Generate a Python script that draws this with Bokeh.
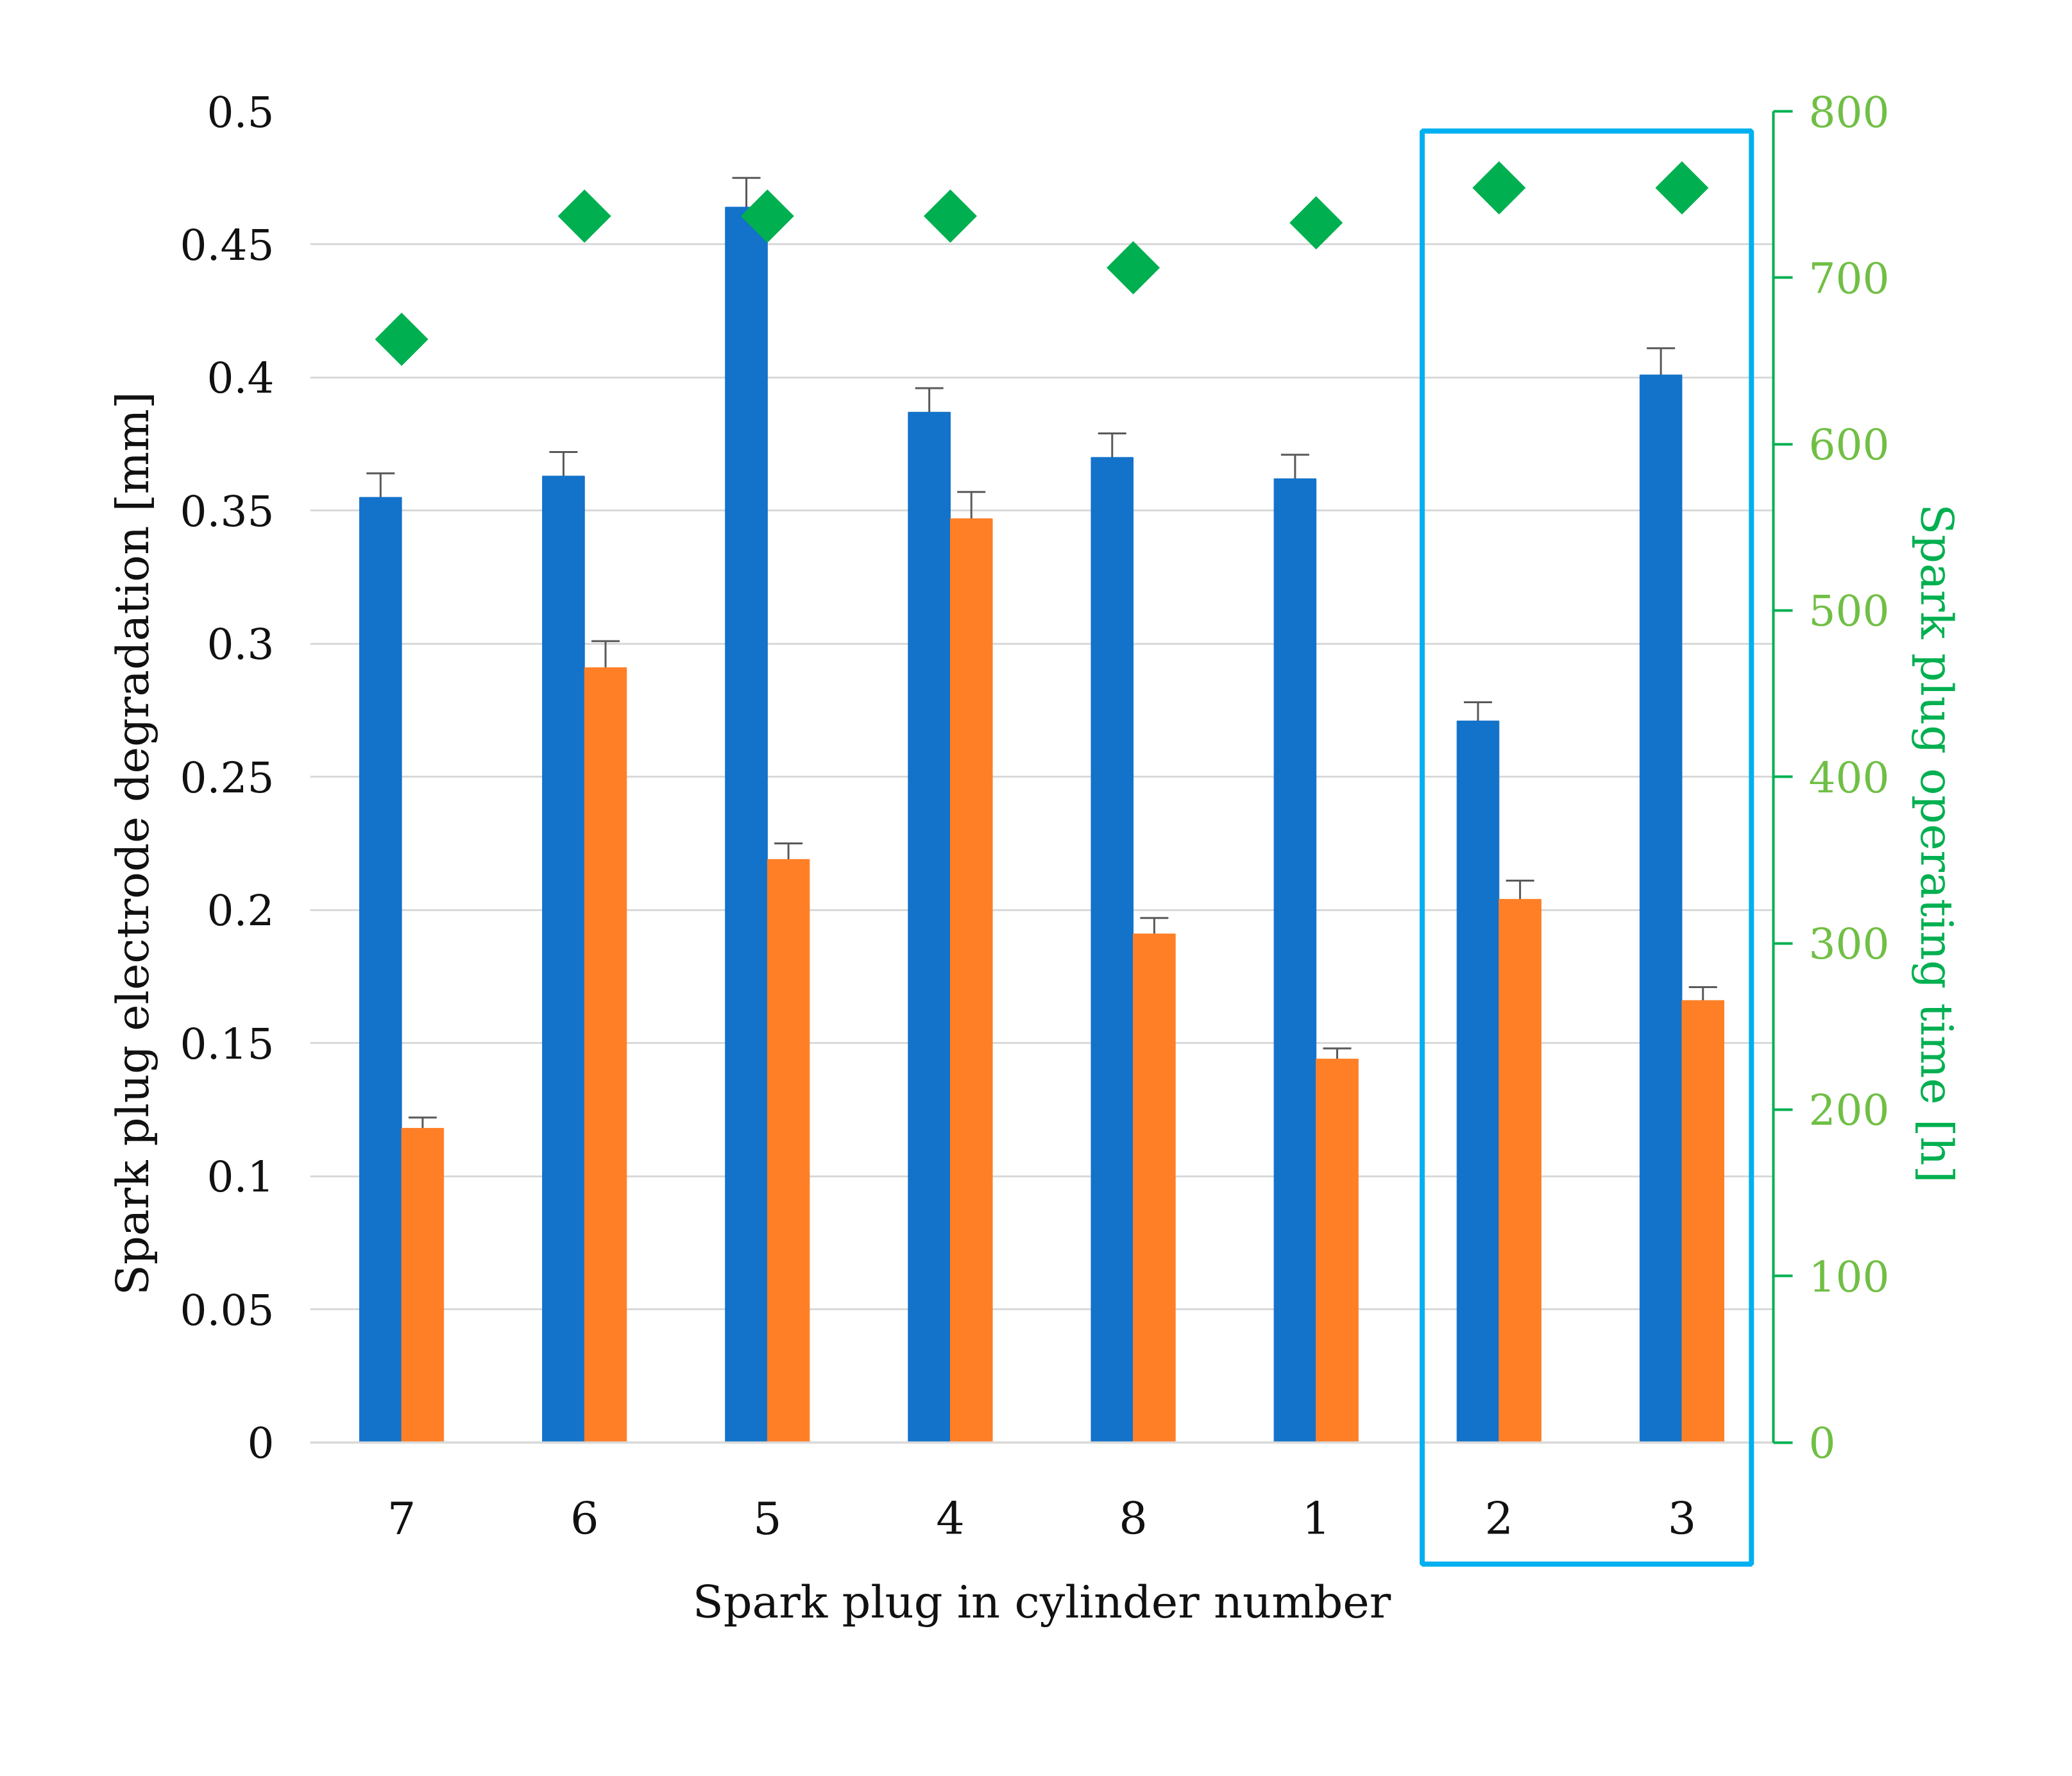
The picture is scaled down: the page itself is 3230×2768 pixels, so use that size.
import math
from bokeh.plotting import figure
from bokeh.models import (ColumnDataSource, FixedTicker, LinearAxis, Range1d, Whisker,
                          Legend, LegendItem, BoxAnnotation)
from bokeh.core.properties import value
from bokeh.embed import file_html
from bokeh.resources import INLINE

cylinders = ["7", "6", "5", "4", "8", "1", "2", "3"]
ground = [0.355, 0.363, 0.464, 0.387, 0.370, 0.362, 0.271, 0.401]
ground_err = [0.009, 0.009, 0.011, 0.009, 0.009, 0.009, 0.007, 0.010]
center = [0.118, 0.291, 0.219, 0.347, 0.191, 0.144, 0.204, 0.166]
center_err = [0.004, 0.010, 0.006, 0.010, 0.006, 0.004, 0.007, 0.005]
hours = [663, 737, 737, 737, 706, 733, 754, 754]
left_ticks = [0, 0.05, 0.1, 0.15, 0.2, 0.25, 0.3, 0.35, 0.4, 0.45, 0.5]
left_labels = ["0", "0.05", "0.1", "0.15", "0.2", "0.25", "0.3", "0.35", "0.4", "0.45", "0.5"]
right_ticks = [0, 100, 200, 300, 400, 500, 600, 700, 800]

FONT = "DejaVu Serif"
GREEN = "#00b050"
LGREEN = "#70bf45"
TXT = "#111111"
pos = [i + 0.5 for i in range(len(cylinders))]
bw = 0.23
src = ColumnDataSource(dict(
    x=pos, xg=[p_ - bw / 2 for p_ in pos], xc=[p_ + bw / 2 for p_ in pos],
    g=ground, c=center, h=hours, lab=cylinders,
    gl=[a - b for a, b in zip(ground, ground_err)], gu=[a + b for a, b in zip(ground, ground_err)],
    cl=[a - b for a, b in zip(center, center_err)], cu=[a + b for a, b in zip(center, center_err)],
    ly=[-0.0283] * len(cylinders)))

p = figure(frame_width=2281, frame_height=2282, x_range=Range1d(0, 8), y_range=Range1d(-0.05, 0.5),
           output_backend="svg", toolbar_location=None, min_border_left=483, min_border_right=436,
           min_border_top=173, min_border_bottom=280)
p.outline_line_color = None
p.xgrid.visible = False
p.ygrid.ticker = FixedTicker(ticks=left_ticks)
p.ygrid.grid_line_color = "#d9d9d9"
p.ygrid.grid_line_width = 3

ax = p.yaxis[0]
ax.ticker = FixedTicker(ticks=left_ticks)
ax.major_label_overrides = {t: l for t, l in zip(left_ticks, left_labels)}
ax.axis_line_color = None
ax.major_tick_line_color = None
ax.minor_tick_line_color = None
ax.major_label_text_font = FONT
ax.major_label_text_font_size = "66px"
ax.major_label_text_color = TXT
ax.major_label_standoff = 50
ax.axis_label = "Spark plug electrode degradation [mm]"
ax.axis_label_text_font = FONT
ax.axis_label_text_font_size = "70px"
ax.axis_label_text_font_style = "normal"
ax.axis_label_text_color = TXT
ax.axis_label_standoff = 30

xa = p.xaxis[0]
xa.ticker = FixedTicker(ticks=[])
xa.axis_line_color = None
xa.major_tick_line_color = None
xa.minor_tick_line_color = None
xa.axis_label = "Spark plug in cylinder number"
xa.axis_label_text_font = FONT
xa.axis_label_text_font_size = "70px"
xa.axis_label_text_font_style = "normal"
xa.axis_label_text_color = TXT
xa.axis_label_standoff = 0

p.extra_y_ranges = {"hours": Range1d(-80, 800)}
ra = LinearAxis(y_range_name="hours", ticker=FixedTicker(ticks=right_ticks), bounds=(0, 800),
                axis_label="Spark plug operating time [h]")
ra.axis_line_color = GREEN
ra.axis_line_width = 4
ra.major_tick_line_color = GREEN
ra.major_tick_line_width = 4
ra.major_tick_out = 30
ra.major_tick_in = 0
ra.minor_tick_line_color = None
ra.major_label_text_color = LGREEN
ra.major_label_text_font = FONT
ra.major_label_text_font_size = "66px"
ra.major_label_standoff = 25
ra.axis_label_text_color = GREEN
ra.axis_label_text_font = FONT
ra.axis_label_text_font_size = "70px"
ra.axis_label_text_font_style = "normal"
ra.axis_label_standoff = 30
ra.axis_label_orientation = "vertical"
p.add_layout(ra, "right")

rg = p.vbar(x="xg", top="g", bottom=0, width=bw, source=src, color="#1372c9")
rc = p.vbar(x="xc", top="c", bottom=0, width=bw, source=src, color="#ff7f27")
for base, lo, hi in (("xg", "gl", "gu"), ("xc", "cl", "cu")):
    w = Whisker(base=base, lower=lo, upper=hi, source=src, dimension="height",
                line_color="#595959", line_width=3)
    w.upper_head.size = 44
    w.lower_head.size = 44
    w.upper_head.line_color = "#595959"
    w.lower_head.line_color = "#595959"
    w.upper_head.line_width = 3
    w.lower_head.line_width = 3
    p.add_layout(w)
rh = p.scatter(x="x", y="h", source=src, y_range_name="hours", marker="square", size=58,
               angle=math.pi / 4, color=GREEN)
p.text(x="x", y="ly", text="lab", source=src, text_font=value(FONT), text_font_size="70px",
       text_align="center", text_baseline="middle", text_color=TXT)
p.line(x=[0, 8], y=[0, 0], line_color="#d9d9d9", line_width=3)

box = BoxAnnotation(left=6.08, right=7.88, bottom=-0.0457, top=0.4926, fill_alpha=0,
                    line_color="#00b0f0", line_alpha=1.0, line_width=8)
p.add_layout(box)

leg = Legend(items=[LegendItem(label="ground electrode", renderers=[rg]),
                    LegendItem(label="center electrode", renderers=[rc]),
                    LegendItem(label="operating hours", renderers=[rh])],
             orientation="horizontal", location="center", label_text_font=FONT,
             label_text_font_size="72px", label_text_color=TXT, border_line_color=None,
             spacing=160, glyph_width=46, glyph_height=46, padding=10, margin=10)
p.add_layout(leg, "below")

open("out.html", "w").write(file_html(p, INLINE))
